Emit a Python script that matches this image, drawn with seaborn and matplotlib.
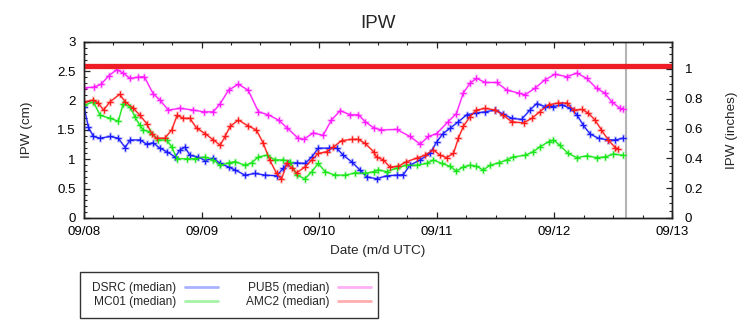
import numpy as np
import pandas as pd
import matplotlib
matplotlib.use('Agg')
import matplotlib.pyplot as plt
import matplotlib.dates as mdates
from matplotlib.ticker import MultipleLocator, FuncFormatter
from matplotlib.lines import Line2D
from matplotlib.patches import Rectangle
import seaborn as sns

# ---------------- data (hours since 09/08 00 UTC, IPW in cm) ----------------
stations = ['DSRC', 'MC01', 'PUB5', 'AMC2']
legend_labels = ['DSRC (median)', 'MC01 (median)', 'PUB5 (median)', 'AMC2 (median)']

dsrc_hours = [0, 0.9, 1.9, 3.3, 5.3, 7, 8.4, 9.4, 11.4, 12.8, 14.1, 15.5, 16.9, 18.6, 19.6, 20.6,
              21.6, 23.3, 24.7, 26.4, 27.8, 29.5, 30.8, 32.9, 34.9, 37, 39.3, 40.7, 41.7, 43.4,
              45.1, 46.5, 47.8, 49.9, 51.6, 52.9, 54.6, 56.3, 57.7, 59.7, 61.8, 63.8, 65.2, 66.5,
              68.6, 70.6, 72, 73.3, 74.7, 76.4, 78.1, 80.1, 81.9, 83.9, 85.6, 87.3, 89.3, 91,
              92.4, 94.1, 95.8, 97.5, 99.2, 100.6, 101.9, 103.3, 105, 107, 108.4, 110]
dsrc_ipw = [1.90, 1.55, 1.39, 1.36, 1.39, 1.36, 1.20, 1.33, 1.33, 1.26, 1.28, 1.19, 1.13, 1.04,
            1.16, 1.21, 1.07, 1.04, 0.98, 1.02, 0.93, 0.87, 0.82, 0.73, 0.76, 0.73, 0.72, 0.85,
            0.94, 0.94, 0.93, 1.04, 1.19, 1.19, 1.19, 1.07, 0.96, 0.82, 0.70, 0.67, 0.72, 0.73,
            0.74, 0.90, 0.99, 1.10, 1.30, 1.44, 1.53, 1.64, 1.76, 1.79, 1.81, 1.84, 1.77, 1.70,
            1.68, 1.84, 1.95, 1.90, 1.90, 1.93, 1.87, 1.76, 1.58, 1.43, 1.36, 1.33, 1.33, 1.36]

mc01_hours = [0, 1.9, 3.3, 5.3, 7, 8, 9.4, 10.4, 11.4, 12.1, 13.5, 15.2, 16.9, 17.9, 19, 21,
              22.7, 24.7, 26.4, 27.8, 29.5, 30.8, 32.9, 34.2, 35.6, 37.3, 39, 40.7, 42.1, 43.4,
              45.1, 46.5, 47.8, 49.2, 51.3, 53.3, 55.4, 57.4, 59.1, 60, 61.8, 63.8, 65.8, 67.9,
              69.9, 71.3, 73, 74.7, 76, 77.4, 78.8, 80.1, 81.5, 82.9, 84.6, 86.3, 87.6, 90,
              91.7, 93, 94.8, 95.8, 97.1, 98.8, 100.6, 102.6, 104.6, 106.3, 108, 110]
mc01_ipw = [1.92, 1.98, 1.75, 1.70, 1.65, 1.95, 1.90, 1.72, 1.58, 1.50, 1.47, 1.33, 1.33, 1.21,
            1.01, 1.01, 1.01, 1.04, 0.99, 0.90, 0.94, 0.96, 0.90, 0.94, 1.04, 1.07, 0.99, 0.99,
            0.96, 0.73, 0.67, 0.79, 0.93, 0.79, 0.73, 0.73, 0.77, 0.76, 0.79, 0.82, 0.79, 0.85,
            0.90, 0.90, 0.93, 0.99, 0.93, 0.88, 0.80, 0.87, 0.90, 0.88, 0.82, 0.90, 0.94, 0.99,
            1.04, 1.07, 1.13, 1.21, 1.30, 1.33, 1.24, 1.10, 1.03, 1.06, 1.03, 1.04, 1.09, 1.07]

pub5_hours = [0, 2, 3.5, 5, 6.7, 8, 9.4, 11, 12.3, 14.1, 15.5, 17.2, 19.6, 22.3, 24.4, 26.4,
              27.8, 29.5, 31.5, 33.5, 35.6, 37.6, 39.7, 41.4, 43.7, 44.8, 46.8, 48.8, 50.5,
              52.3, 54.3, 56, 57.4, 59.1, 60.7, 63.8, 66.5, 68.6, 70.3, 72, 74.3, 76, 77.4,
              78.8, 80.1, 81.9, 84.2, 86.3, 88.7, 90, 92, 94, 96.1, 98.5, 100.6, 102.6, 104.6,
              106.3, 107.7, 109.4, 110]
pub5_ipw = [2.22, 2.23, 2.28, 2.42, 2.53, 2.47, 2.38, 2.40, 2.41, 2.12, 2.01, 1.84, 1.87, 1.84,
            1.81, 1.81, 1.95, 2.18, 2.28, 2.18, 1.81, 1.76, 1.67, 1.54, 1.36, 1.34, 1.45, 1.41,
            1.67, 1.83, 1.76, 1.76, 1.64, 1.54, 1.50, 1.51, 1.39, 1.26, 1.39, 1.44, 1.64, 1.78,
            2.13, 2.30, 2.38, 2.31, 2.31, 2.18, 2.13, 2.10, 2.21, 2.35, 2.45, 2.41, 2.47, 2.38,
            2.21, 2.13, 1.98, 1.87, 1.86]

amc2_hours = [0, 1.9, 2.9, 4, 5.3, 7.3, 8.4, 10.1, 11.4, 12.8, 13.8, 14.8, 16.5, 17.9, 19,
              20.3, 21.6, 23, 24.7, 26.4, 27.8, 28.8, 29.8, 31.5, 33.5, 35.2, 36.6, 37.9, 39.3,
              40.3, 41.4, 42.4, 43.4, 45.1, 46.5, 47.8, 49.5, 50.9, 52.6, 54.6, 56, 57.4, 59.1,
              59.7, 61.1, 62.4, 64.1, 65.8, 67.9, 69.6, 71.3, 72.7, 74, 75.4, 76.4, 77.4, 78.8,
              80.1, 81.9, 83.9, 85.6, 87.3, 89.7, 91.4, 93, 94.8, 96.8, 98.5, 99.9, 101.6,
              102.9, 104.3, 105.6, 107, 108.4, 109]
amc2_ipw = [1.98, 2.01, 1.96, 1.84, 1.98, 2.11, 1.98, 1.87, 1.75, 1.61, 1.44, 1.36, 1.36, 1.50,
            1.75, 1.70, 1.70, 1.53, 1.44, 1.33, 1.24, 1.39, 1.56, 1.67, 1.57, 1.50, 1.27, 0.99,
            0.76, 0.66, 0.93, 0.85, 0.77, 0.87, 0.99, 1.10, 1.13, 1.21, 1.32, 1.34, 1.34, 1.27,
            1.13, 1.04, 0.99, 0.87, 0.88, 0.96, 1.02, 1.07, 1.16, 1.07, 1.03, 1.10, 1.36, 1.56,
            1.73, 1.84, 1.87, 1.84, 1.75, 1.64, 1.62, 1.70, 1.81, 1.93, 1.96, 1.96, 1.84, 1.85,
            1.79, 1.67, 1.50, 1.33, 1.20, 1.18]

threshold_cm = 2.59
now_hours = 110.6
start_date = '2015-09-08'
end_date = '2015-09-13'
cm_per_inch = 2.54

line_colors = {'DSRC': '#1a1aff', 'MC01': '#19e619', 'PUB5': '#ff1aff', 'AMC2': '#ff1a1a'}
legend_colors = ['#aab2ff', '#a6f2a6', '#ffb0f6', '#ffaeae']

# ---------------- build table ----------------
series = [(stations[0], dsrc_hours, dsrc_ipw), (stations[1], mc01_hours, mc01_ipw),
          (stations[2], pub5_hours, pub5_ipw), (stations[3], amc2_hours, amc2_ipw)]
t0 = pd.Timestamp(start_date)
frames = []
for name, hrs, vals in series:
    frames.append(pd.DataFrame({'time': t0 + pd.to_timedelta(np.array(hrs), unit='h'),
                                'ipw': vals, 'station': name}))
df = pd.concat(frames, ignore_index=True)

# ---------------- style ----------------
sns.set_style('ticks')
plt.rcParams['font.family'] = ['Liberation Sans', 'DejaVu Sans']
plt.rcParams['axes.edgecolor'] = '#222222'
plt.rcParams['axes.linewidth'] = 1.0

fig = plt.figure(figsize=(7.56, 3.24), dpi=100)
ax = fig.add_axes([84 / 756, 1 - 218 / 324, 588 / 756, 176 / 324])

# halo layer
sns.lineplot(data=df, x='time', y='ipw', hue='station', hue_order=stations,
             palette=line_colors, estimator=None, sort=True, legend=False, ax=ax,
             marker='+', markersize=6, markeredgewidth=2.0, linewidth=1.6, alpha=0.28)
# main layer
sns.lineplot(data=df, x='time', y='ipw', hue='station', hue_order=stations,
             palette=line_colors, estimator=None, sort=True, legend=False, ax=ax,
             marker='+', markersize=5, markeredgewidth=0.8, linewidth=0.8)
for ln in ax.lines:
    ln.set_markeredgecolor(ln.get_color())

ax.axhline(threshold_cm, color='#ee1c25', linewidth=3.8, zorder=5)
ax.axvline(t0 + pd.Timedelta(hours=now_hours), color='#b4b4b4', linewidth=1.5, zorder=1)

ax.set_xlim(pd.Timestamp(start_date), pd.Timestamp(end_date))
ax.set_ylim(0, 3)
ax.xaxis.set_major_locator(mdates.DayLocator())
ax.xaxis.set_major_formatter(mdates.DateFormatter('%m/%d'))
ax.xaxis.set_minor_locator(mdates.HourLocator(byhour=[6, 12, 18]))
ax.yaxis.set_major_locator(MultipleLocator(0.5))
ax.yaxis.set_minor_locator(MultipleLocator(0.1))
fmt = FuncFormatter(lambda v, p: '%g' % round(v, 3))
ax.yaxis.set_major_formatter(fmt)
ax.tick_params(axis='both', which='both', direction='in', labelsize=9.5, colors='#222222',
               labelcolor='black')
ax.tick_params(axis='x', which='both', top=True, pad=6)
ax.tick_params(axis='y', which='both', right=False, pad=6)
ax.tick_params(which='major', length=4.5, width=0.9)
ax.tick_params(which='minor', length=2.5, width=0.8)

ax2 = ax.twinx()
ax2.set_ylim(0, 3 / cm_per_inch)
ax2.yaxis.set_major_locator(MultipleLocator(0.2))
ax2.yaxis.set_minor_locator(MultipleLocator(0.05))
ax2.yaxis.set_major_formatter(fmt)
ax2.tick_params(axis='y', which='both', direction='in', labelsize=9.5, pad=9,
                colors='#222222', labelcolor='black')
ax2.tick_params(which='major', length=4.5, width=0.9)
ax2.tick_params(which='minor', length=2.5, width=0.8)

ax.set_title('IPW', fontsize=13.5, pad=10)
ax.set_xlabel('Date (m/d UTC)', fontsize=9.7, labelpad=5)
ax.set_ylabel('IPW (cm)', fontsize=9.7)
ax.yaxis.set_label_coords(-0.086, 0.5)
ax2.set_ylabel('IPW (inches)', fontsize=9.7)
ax2.yaxis.set_label_coords(1.091, 0.5)

# legend
fig.patches.append(Rectangle((80 / 756, 1 - 318 / 324), 298 / 756, 46 / 324,
                             transform=fig.transFigure, fill=False, edgecolor='#333333',
                             linewidth=1.0))
handles = [Line2D([], [], color=c, linewidth=2) for c in legend_colors]
fig.legend(handles, legend_labels, ncol=2, markerfirst=False, frameon=False,
           loc='center right', bbox_to_anchor=(371 / 756, 1 - 295 / 324),
           fontsize=8.6, borderpad=0, labelspacing=0.15, handlelength=2.8,
           handletextpad=0.7, columnspacing=2.3, borderaxespad=0)

fig.savefig('out.png', dpi=100)
